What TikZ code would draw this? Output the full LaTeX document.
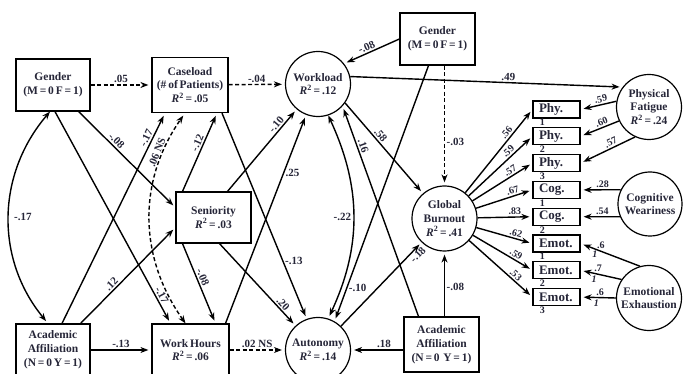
\documentclass[tikz,border=0pt]{standalone}
\usepackage{fontspec}
\setmainfont{Liberation Serif}
\usetikzlibrary{arrows.meta}
\definecolor{ink}{RGB}{38,38,56}
\newcommand{\tightsp}{\spaceskip=0.16em\relax}
\tikzset{
	box/.style={draw, line width=1.2pt, align=center, text=ink, inner sep=1pt, font=\bfseries\fontsize{11.5}{13.8}\selectfont\tightsp},
	lat/.style={box, circle, minimum size=65pt, inner sep=0pt},
	ind/.style={box, minimum height=17pt, text width=35pt, inner xsep=6pt, inner ysep=0pt, align=left, font=\bfseries\fontsize{13}{13}\selectfont},
	sub/.style={text=ink, inner sep=0.5pt, anchor=north, font=\bfseries\fontsize{10}{10}\selectfont},
	lab/.style={text=ink, inner sep=1.5pt, font=\bfseries\fontsize{11}{11}\selectfont},
	sml/.style={lab, font=\bfseries\fontsize{10}{10}\selectfont},
	eff/.style={->, line width=1.4pt, shorten >=3pt},
	nseff/.style={eff, dash pattern=on 4pt off 2.5pt},
}
\newcommand{\rsq}[1]{\textit{R}\textsuperscript{2} = #1}
\begin{document}
\begin{tikzpicture}[x=1pt, y=-1pt, >={Stealth[length=8pt,width=6pt]}]
	\useasboundingbox (0,0) rectangle (689,374);
		\node[box, minimum width=74pt, minimum height=52pt] at (53,85) (GenL) {Gender\\(M = 0 F = 1)};
		\node[box, minimum width=76pt, minimum height=55pt] at (190,85) (Case) {Caseload\\(\# of Patients)\\\rsq{.05}};
		\node[lat] at (318,84) (WL) {Workload\\\rsq{.12}};
		\node[box, minimum width=75pt, minimum height=52pt] at (437.5,39) (GenR) {Gender\\(M = 0 F = 1)};
		\node[box, minimum width=75pt, minimum height=51pt] at (213.5,217.5) (Sen) {Seniority\\\rsq{.03}};
		\node[box, minimum width=74pt, minimum height=52pt] at (53,350) (AcL) {Academic\\Affiliation\\(N = 0 Y = 1)};
		\node[box, minimum width=77pt, minimum height=52pt] at (190.5,350) (WH) {Work Hours\\\rsq{.06}};
		\node[lat] at (318,350) (AU) {Autonomy\\\rsq{.14}};
		\node[box, minimum width=75pt, minimum height=55pt] at (441.5,344.5) (AcR) {Academic\\Affiliation\\(N = 0~ Y = 1)};
		\node[lat] at (444.5,218.5) (GB) {Global\\Burnout\\\rsq{.41}};
		\node[lat] at (649,107) (PF) {Physical\\Fatigue\\\rsq{.24}};
		\node[lat, minimum size=64pt] at (650,204) (CW) {Cognitive\\Weariness};
		\node[lat] at (649,298) (EE) {Emotional\\Exhaustion};
		\foreach \n/\t/\s [count=\i] in {P1/Phy./1,P2/Phy./2,P3/Phy./3,C1/Cog./1,C2/Cog./2,E1/Emot./1,E2/Emot./2,E3/Emot./3}{
			\node[ind] at (556.5,{109.5+26.8*(\i-1)}) (\n) {\t};
			\node[sub] at ([xshift=10pt]\n.south west) {\s};
		}
		\draw[nseff] (GenL) -- node[lab,above]{.05} (Case);
		\draw[nseff] (Case) -- node[lab,above]{-.04} (WL);
		\draw[eff] ([xshift=-12pt]GenL.south east) -- node[lab,pos=.35,above,sloped]{-.08} ([yshift=10pt]Sen.west);
		\draw[eff] ([xshift=2pt]GenL.south) -- node[lab,pos=.88,above,sloped]{-.17} ([xshift=-20pt]WH.north);
		\draw[eff] ([xshift=9pt]AcL.north) -- node[lab,pos=.87,above,sloped]{-.17} ([xshift=-25pt]Case.south);
		\draw[eff] ([xshift=-10pt]AcL.north east) -- node[lab,pos=.37,above,sloped]{.12} ([yshift=-10pt]Sen.west);
		\draw[eff] (AcL) -- node[lab,above]{-.13} (WH);
		\draw[eff,<->] ([xshift=-3pt]GenL.south) to[bend right=40] node[lab,right,xshift=3pt]{-.17} ([xshift=-5pt]AcL.north);
		\draw[nseff,<->] ([xshift=-5pt]WH.north) to[bend left=35] node[lab,pos=.8,above,sloped]{.06 NS} ([xshift=-5pt]Case.south);
		\draw[eff] ([xshift=-31pt]Sen.north) -- node[lab,pos=.59,above,sloped]{-.12} ([xshift=27pt]Case.south);
		\draw[eff] ([xshift=14pt]Sen.north) -- node[lab,pos=.77,above,sloped]{-.10} (WL);
		\draw[eff] ([xshift=-31pt]Sen.south) -- node[lab,pos=.45,above,sloped]{-.08} ([xshift=25pt]WH.north);
		\draw[eff] ([xshift=6pt]Sen.south) -- node[lab,pos=.78,above,sloped]{.20} (AU);
		\draw[eff] ([xshift=32pt]Case.south) -- node[lab,pos=.72,right]{-.13} (AU.110);
		\draw[eff] ([xshift=35pt]WH.north) -- node[lab,pos=.72,right]{.25} (WL);
		\draw[nseff] (WH) -- node[lab,above]{.02 NS} (AU);
		\draw[eff,<->] (WL.-72) to[bend left=25] node[lab,left]{-.22} (AU.72);
		\draw[eff] (GenR.west) -- node[lab,pos=.55,above,sloped]{-.08} (WL.38);
		\draw[eff] ([xshift=-9pt]GenR.south) -- node[lab,pos=.87,right]{-.10} (AU.60);
		\draw[nseff] (GenR.south -| GB) -- node[lab,pos=.64,right]{-.03} (GB);
		\draw[eff] (WL.-35) -- node[lab,pos=.4,above,sloped]{.58} (GB);
		\draw[eff] (WL.13) -- node[lab,pos=.58,above,sloped]{.49} (PF.143);
		\draw[eff] ([xshift=-23pt]AcR.north) -- node[lab,pos=.8,above,sloped]{.16} (WL.-42);
		\draw[eff] (AcR.north -| GB) -- node[lab,pos=.45,right]{-.08} (GB);
		\draw[eff] (AcR.west |- AU) -- node[lab,pos=.37,above]{.18} (AU);
		\draw[eff] (AU) -- node[lab,pos=.9,below,sloped]{-.18} (GB);
		\foreach \n/\v in {P1/.56,P2/.59,P3/.57,C1/.67,C2/.83,E1/.62,E2/.59,E3/.53}
			\draw[eff] (GB) -- node[sml,pos=.68,above,sloped]{\v} (\n.west);
		\foreach \a/\n/\v in {170/P1/.59,-155/P2/.60,-115/P3/.57}
			\draw[eff] (PF.\a) -- node[sml,pos=.4,above,sloped]{\v} (\n.east);
		\draw[eff] (CW.154) -- node[sml,pos=.45,above]{.28} (C1.east);
		\draw[eff] (CW.-157) -- node[sml,pos=.45,above]{.54} (C2.east);
		\foreach \a/\n/\v/\p in {106/E1/.6/.66,146/E2/.7/.57,180/E3/.6/.45}
			\draw[eff] (EE.\a) -- node[sml,pos=\p,above]{\v} node[sml,pos=\p+.1,below]{\textit{1}} (\n.east);
	\end{tikzpicture}
\end{document}
